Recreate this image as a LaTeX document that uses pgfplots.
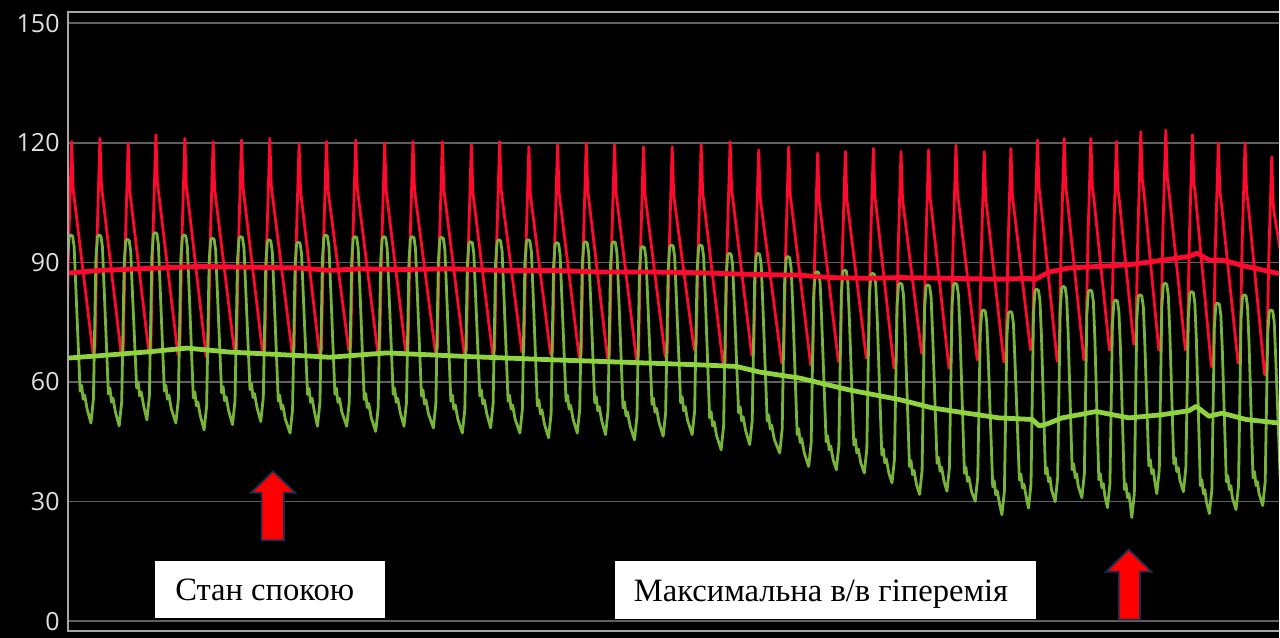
\documentclass[border=0pt]{standalone}
\usepackage{fontspec}
\setmainfont{Liberation Serif}
\newfontfamily\tickfont{Open Sans}
\usepackage{pgfplots}
\pgfplotsset{compat=1.18}
\definecolor{wred}{HTML}{FF0A2E}
\definecolor{wgreen}{HTML}{78B43A}
\definecolor{mgreen}{HTML}{8FD33F}
\definecolor{gridc}{HTML}{606060}
\definecolor{framec}{HTML}{A6A6A6}
\definecolor{tickc}{HTML}{E0E0E0}
\definecolor{arrowedge}{HTML}{1F2D4D}

\begin{document}
\begin{tikzpicture}
% 1 px of the screenshot = 0.5pt
\fill[black] (0,0) rectangle (640pt,319pt);
\begin{axis}[at={(34pt,3.15pt)}, anchor=south west, scale only axis,
  width=606pt, height=309.85pt,
  xmin=68, xmax=1280, ymin=-2.5, ymax=152.8,
  xtick=\empty, ytick={0,30,60,90,120,150},
  ymajorgrids, grid style={gridc, line width=0.8pt},
  major tick length=0pt, axis line style={draw=none},
  /pgf/number format/assume math mode=true,
  yticklabel style={font=\tickfont\fontsize{12.5}{13}\selectfont, text=tickc, inner xsep=0pt, xshift=-4pt},
  clip mode=individual,
  every axis plot/.append style={line join=round, mark=none}]

% aortic pressure (red)
\addplot[wred, line width=1.4pt] coordinates {
(64.7,68.0) (66.7,69.0) (68.7,94.3) (70.2,107.3) (71.7,120.3) (73.2,108.3) (74.7,105.3)
(93.0,67.3) (95.0,68.3) (97.0,95.1) (98.5,108.1) (100.0,121.1) (101.5,109.1) (103.0,106.1)
(121.3,67.0) (123.3,68.0) (125.3,93.9) (126.8,106.9) (128.3,119.9) (129.8,107.9) (131.3,104.9)
(149.0,67.5) (151.0,68.5) (153.0,96.0) (154.5,109.0) (156.0,122.0) (157.5,110.0) (159.0,107.0)
(178.0,67.0) (180.0,68.0) (182.0,95.1) (183.5,108.1) (185.0,121.1) (186.5,109.1) (188.0,106.1)
(206.3,66.4) (208.3,67.4) (210.3,94.3) (211.8,107.3) (213.3,120.3) (214.8,108.3) (216.3,105.3)
(234.7,67.5) (236.7,68.5) (238.7,94.7) (240.2,107.7) (241.7,120.7) (243.2,108.7) (244.7,105.7)
(263.0,67.0) (265.0,68.0) (267.0,95.1) (268.5,108.1) (270.0,121.1) (271.5,109.1) (273.0,106.1)
(292.3,67.5) (294.3,68.5) (296.3,93.7) (297.8,106.7) (299.3,119.7) (300.8,107.7) (302.3,104.7)
(319.7,67.0) (321.7,68.0) (323.7,94.3) (325.2,107.3) (326.7,120.3) (328.2,108.3) (329.7,105.3)
(349.0,68.0) (351.0,69.0) (353.0,94.7) (354.5,107.7) (356.0,120.7) (357.5,108.7) (359.0,105.7)
(378.0,67.5) (380.0,68.5) (382.0,93.9) (383.5,106.9) (385.0,119.9) (386.5,107.9) (388.0,104.9)
(406.3,67.0) (408.3,68.0) (410.3,94.3) (411.8,107.3) (413.3,120.3) (414.8,108.3) (416.3,105.3)
(435.7,67.5) (437.7,68.5) (439.7,94.3) (441.2,107.3) (442.7,120.3) (444.2,108.3) (445.7,105.3)
(464.7,67.0) (466.7,68.0) (468.7,93.5) (470.2,106.5) (471.7,119.5) (473.2,107.5) (474.7,104.5)
(493.0,67.0) (495.0,68.0) (497.0,94.3) (498.5,107.3) (500.0,120.3) (501.5,108.3) (503.0,105.3)
(522.3,67.5) (524.3,68.5) (526.3,93.0) (527.8,106.0) (529.3,119.0) (530.8,107.0) (532.3,104.0)
(551.0,67.0) (553.0,68.0) (555.0,93.5) (556.5,106.5) (558.0,119.5) (559.5,107.5) (561.0,104.5)
(579.7,66.0) (581.7,67.0) (583.7,93.9) (585.2,106.9) (586.7,119.9) (588.2,107.9) (589.7,104.9)
(608.0,66.0) (610.0,67.0) (612.0,93.5) (613.5,106.5) (615.0,119.5) (616.5,107.5) (618.0,104.5)
(637.0,65.6) (639.0,66.6) (641.0,93.0) (642.5,106.0) (644.0,119.0) (645.5,107.0) (647.0,104.0)
(665.7,66.4) (667.7,67.4) (669.7,93.0) (671.2,106.0) (672.7,119.0) (674.2,107.0) (675.7,104.0)
(694.7,68.1) (696.7,69.1) (698.7,93.5) (700.2,106.5) (701.7,119.5) (703.2,107.5) (704.7,104.5)
(723.7,64.3) (725.7,65.3) (727.7,94.3) (729.2,107.3) (730.7,120.3) (732.2,108.3) (733.7,105.3)
(752.3,66.8) (754.3,67.8) (756.3,92.2) (757.8,105.2) (759.3,118.2) (760.8,106.2) (762.3,103.2)
(782.3,64.8) (784.3,65.8) (786.3,93.0) (787.8,106.0) (789.3,119.0) (790.8,107.0) (792.3,104.0)
(811.3,64.3) (813.3,65.3) (815.3,91.4) (816.8,104.4) (818.3,117.4) (819.8,105.4) (821.3,102.4)
(839.0,65.2) (841.0,66.2) (843.0,91.8) (844.5,104.8) (846.0,117.8) (847.5,105.8) (849.0,102.8)
(867.0,66.0) (869.0,67.0) (871.0,92.6) (872.5,105.6) (874.0,118.6) (875.5,106.6) (877.0,103.6)
(894.7,63.5) (896.7,64.5) (898.7,91.8) (900.2,104.8) (901.7,117.8) (903.2,105.8) (904.7,102.8)
(922.3,67.3) (924.3,68.3) (926.3,92.2) (927.8,105.2) (929.3,118.2) (930.8,106.2) (932.3,103.2)
(949.7,63.5) (951.7,64.5) (953.7,93.4) (955.2,106.4) (956.7,119.4) (958.2,107.4) (959.7,104.4)
(978.0,65.6) (980.0,66.6) (982.0,91.8) (983.5,104.8) (985.0,117.8) (986.5,105.8) (988.0,102.8)
(1004.7,65.0) (1006.7,66.0) (1008.7,92.6) (1010.2,105.6) (1011.7,118.6) (1013.2,106.6) (1014.7,103.6)
(1031.3,68.1) (1033.3,69.1) (1035.3,94.7) (1036.8,107.7) (1038.3,120.7) (1039.8,108.7) (1041.3,105.7)
(1058.0,65.2) (1060.0,66.2) (1062.0,95.1) (1063.5,108.1) (1065.0,121.1) (1066.5,109.1) (1068.0,106.1)
(1084.7,65.6) (1086.7,66.6) (1088.7,95.1) (1090.2,108.1) (1091.7,121.1) (1093.2,109.1) (1094.7,106.1)
(1110.3,68.0) (1112.3,69.0) (1114.3,94.3) (1115.8,107.3) (1117.3,120.3) (1118.8,108.3) (1120.3,105.3)
(1134.7,69.5) (1136.7,70.5) (1138.7,96.8) (1140.2,109.8) (1141.7,122.8) (1143.2,110.8) (1144.7,107.8)
(1159.7,68.0) (1161.7,69.0) (1163.7,97.2) (1165.2,110.2) (1166.7,123.2) (1168.2,111.2) (1169.7,108.2)
(1186.3,68.1) (1188.3,69.1) (1190.3,96.0) (1191.8,109.0) (1193.3,122.0) (1194.8,110.0) (1196.3,107.0)
(1212.3,63.9) (1214.3,64.9) (1216.3,93.9) (1217.8,106.9) (1219.3,119.9) (1220.8,107.9) (1222.3,104.9)
(1239.0,64.8) (1241.0,65.8) (1243.0,93.9) (1244.5,106.9) (1246.0,119.9) (1247.5,107.9) (1249.0,104.9)
(1265.7,61.8) (1267.7,62.8) (1269.7,90.5) (1271.2,103.5) (1272.7,116.5) (1274.2,104.5) (1275.7,101.5)
(1290.0,80.0)
};

% distal pressure (green)
\addplot[wgreen, line width=1.4pt] coordinates {
(62.7,50.0) (65.2,56.0) (67.7,90.9) (69.2,96.4) (70.7,96.9) (72.7,96.6) (74.2,93.9) (75.7,84.9) (80.2,57.7) (81.7,59.2) (83.2,55.7) (84.7,56.7) (87.2,53.2)
(91.0,49.7) (93.5,55.7) (96.0,90.9) (97.5,96.4) (99.0,96.9) (101.0,96.6) (102.5,93.9) (104.0,84.9) (108.5,57.0) (110.0,58.5) (111.5,55.0) (113.0,56.0) (115.5,52.5)
(119.3,49.0) (121.8,55.0) (124.3,89.8) (125.8,95.3) (127.3,95.8) (129.3,95.5) (130.8,92.8) (132.3,83.8) (136.8,58.5) (138.3,60.0) (139.8,56.5) (141.3,57.5) (143.8,54.0)
(147.0,50.5) (149.5,56.5) (152.0,91.5) (153.5,97.0) (155.0,97.5) (157.0,97.2) (158.5,94.5) (160.0,85.5) (164.5,57.7) (166.0,59.2) (167.5,55.7) (169.0,56.7) (171.5,53.2)
(176.0,49.7) (178.5,55.7) (181.0,90.9) (182.5,96.4) (184.0,96.9) (186.0,96.6) (187.5,93.9) (189.0,84.9) (193.5,56.0) (195.0,57.5) (196.5,54.0) (198.0,55.0) (200.5,51.5)
(204.3,48.0) (206.8,54.0) (209.3,90.1) (210.8,95.6) (212.3,96.1) (214.3,95.8) (215.8,93.1) (217.3,84.1) (221.8,57.3) (223.3,58.8) (224.8,55.3) (226.3,56.3) (228.8,52.8)
(232.7,49.3) (235.2,55.3) (237.7,90.5) (239.2,96.0) (240.7,96.5) (242.7,96.2) (244.2,93.5) (245.7,84.5) (250.2,58.1) (251.7,59.6) (253.2,56.1) (254.7,57.1) (257.2,53.6)
(261.0,50.1) (263.5,56.1) (266.0,89.7) (267.5,95.2) (269.0,95.7) (271.0,95.4) (272.5,92.7) (274.0,83.7) (278.5,55.2) (280.0,56.7) (281.5,53.2) (283.0,54.2) (285.5,50.7)
(290.3,47.2) (292.8,53.2) (295.3,89.1) (296.8,94.6) (298.3,95.1) (300.3,94.8) (301.8,92.1) (303.3,83.1) (307.8,56.9) (309.3,58.4) (310.8,54.9) (312.3,55.9) (314.8,52.4)
(317.7,48.9) (320.2,54.9) (322.7,90.9) (324.2,96.4) (325.7,96.9) (327.7,96.6) (329.2,93.9) (330.7,84.9) (335.2,56.9) (336.7,58.4) (338.2,54.9) (339.7,55.9) (342.2,52.4)
(347.0,48.9) (349.5,54.9) (352.0,90.5) (353.5,96.0) (355.0,96.5) (357.0,96.2) (358.5,93.5) (360.0,84.5) (364.5,55.6) (366.0,57.1) (367.5,53.6) (369.0,54.6) (371.5,51.1)
(376.0,47.6) (378.5,53.6) (381.0,90.5) (382.5,96.0) (384.0,96.5) (386.0,96.2) (387.5,93.5) (389.0,84.5) (393.5,56.9) (395.0,58.4) (396.5,54.9) (398.0,55.9) (400.5,52.4)
(404.3,48.9) (406.8,54.9) (409.3,90.5) (410.8,96.0) (412.3,96.5) (414.3,96.2) (415.8,93.5) (417.3,84.5) (421.8,56.5) (423.3,58.0) (424.8,54.5) (426.3,55.5) (428.8,52.0)
(433.7,48.5) (436.2,54.5) (438.7,90.3) (440.2,95.8) (441.7,96.3) (443.7,96.0) (445.2,93.3) (446.7,84.3) (451.2,55.2) (452.7,56.7) (454.2,53.2) (455.7,54.2) (458.2,50.7)
(462.7,47.2) (465.2,53.2) (467.7,89.2) (469.2,94.7) (470.7,95.2) (472.7,94.9) (474.2,92.2) (475.7,83.2) (480.2,56.5) (481.7,58.0) (483.2,54.5) (484.7,55.5) (487.2,52.0)
(491.0,48.5) (493.5,54.5) (496.0,89.7) (497.5,95.2) (499.0,95.7) (501.0,95.4) (502.5,92.7) (504.0,83.7) (508.5,55.2) (510.0,56.7) (511.5,53.2) (513.0,54.2) (515.5,50.7)
(520.3,47.2) (522.8,53.2) (525.3,89.7) (526.8,95.2) (528.3,95.7) (530.3,95.4) (531.8,92.7) (533.3,83.7) (537.8,54.0) (539.3,55.5) (540.8,52.0) (542.3,53.0) (544.8,49.5)
(549.0,46.0) (551.5,52.0) (554.0,89.0) (555.5,94.5) (557.0,95.0) (559.0,94.7) (560.5,92.0) (562.0,83.0) (566.5,55.2) (568.0,56.7) (569.5,53.2) (571.0,54.2) (573.5,50.7)
(577.7,47.2) (580.2,53.2) (582.7,89.2) (584.2,94.7) (585.7,95.2) (587.7,94.9) (589.2,92.2) (590.7,83.2) (595.2,54.8) (596.7,56.3) (598.2,52.8) (599.7,53.8) (602.2,50.3)
(606.0,46.8) (608.5,52.8) (611.0,89.2) (612.5,94.7) (614.0,95.2) (616.0,94.9) (617.5,92.2) (619.0,83.2) (623.5,53.5) (625.0,55.0) (626.5,51.5) (628.0,52.5) (630.5,49.0)
(635.0,45.5) (637.5,51.5) (640.0,88.0) (641.5,93.5) (643.0,94.0) (645.0,93.7) (646.5,91.0) (648.0,82.0) (652.5,54.4) (654.0,55.9) (655.5,52.4) (657.0,53.4) (659.5,49.9)
(663.7,46.4) (666.2,52.4) (668.7,88.4) (670.2,93.9) (671.7,94.4) (673.7,94.1) (675.2,91.4) (676.7,82.4) (681.2,54.8) (682.7,56.3) (684.2,52.8) (685.7,53.8) (688.2,50.3)
(692.7,46.8) (695.2,52.8) (697.7,88.4) (699.2,93.9) (700.7,94.4) (702.7,94.1) (704.2,91.4) (705.7,82.4) (710.2,51.0) (711.7,52.5) (713.2,49.0) (714.7,50.0) (717.2,46.5)
(721.7,43.0) (724.2,49.0) (726.7,86.3) (728.2,91.8) (729.7,92.3) (731.7,92.0) (733.2,89.3) (734.7,80.3) (739.2,52.3) (740.7,53.8) (742.2,50.3) (743.7,51.3) (746.2,47.8)
(750.3,44.3) (752.8,50.3) (755.3,86.3) (756.8,91.8) (758.3,92.3) (760.3,92.0) (761.8,89.3) (763.3,80.3) (767.8,50.2) (769.3,51.7) (770.8,48.2) (772.3,49.2) (774.8,45.7)
(780.3,42.2) (782.8,48.2) (785.3,85.5) (786.8,91.0) (788.3,91.5) (790.3,91.2) (791.8,88.5) (793.3,79.5) (797.8,46.8) (799.3,48.3) (800.8,44.8) (802.3,45.8) (804.8,42.3)
(809.3,38.8) (811.8,44.8) (814.3,81.7) (815.8,87.2) (817.3,87.7) (819.3,87.4) (820.8,84.7) (822.3,75.7) (826.8,45.0) (828.3,46.5) (829.8,43.0) (831.3,44.0) (833.8,40.5)
(837.0,38.0) (839.5,44.0) (842.0,82.1) (843.5,87.6) (845.0,88.1) (847.0,87.8) (848.5,85.1) (850.0,76.1) (854.5,44.2) (856.0,45.7) (857.5,42.2) (859.0,43.2) (861.5,39.7)
(865.0,37.2) (867.5,43.2) (870.0,81.3) (871.5,86.8) (873.0,87.3) (875.0,87.0) (876.5,84.3) (878.0,75.3) (882.5,41.7) (884.0,43.2) (885.5,39.7) (887.0,40.7) (889.5,37.2)
(892.7,34.7) (895.2,40.7) (897.7,78.8) (899.2,84.3) (900.7,84.8) (902.7,84.5) (904.2,81.8) (905.7,72.8) (910.2,38.8) (911.7,40.3) (913.2,36.8) (914.7,37.8) (917.2,34.3)
(920.3,31.8) (922.8,37.8) (925.3,78.4) (926.8,83.9) (928.3,84.4) (930.3,84.1) (931.8,81.4) (933.3,72.4) (937.8,39.6) (939.3,41.1) (940.8,37.6) (942.3,38.6) (944.8,35.1)
(947.7,32.6) (950.2,38.6) (952.7,78.8) (954.2,84.3) (955.7,84.8) (957.7,84.5) (959.2,81.8) (960.7,72.8) (965.2,37.1) (966.7,38.6) (968.2,35.1) (969.7,36.1) (972.2,32.6)
(976.0,30.1) (978.5,36.1) (981.0,72.1) (982.5,77.6) (984.0,78.1) (986.0,77.8) (987.5,75.1) (989.0,66.1) (993.5,33.7) (995.0,35.2) (996.5,31.7) (998.0,32.7) (1000.5,29.2)
(1002.7,26.7) (1005.2,32.7) (1007.7,71.7) (1009.2,77.2) (1010.7,77.7) (1012.7,77.4) (1014.2,74.7) (1015.7,65.7) (1020.2,35.4) (1021.7,36.9) (1023.2,33.4) (1024.7,34.4) (1027.2,30.9)
(1029.3,28.4) (1031.8,34.4) (1034.3,77.3) (1035.8,82.8) (1037.3,83.3) (1039.3,83.0) (1040.8,80.3) (1042.3,71.3) (1046.3,37.0) (1047.8,38.5) (1049.3,35.0) (1050.8,36.0) (1052.3,33.0)
(1056.0,30.0) (1058.5,36.0) (1061.0,78.0) (1062.5,83.5) (1064.0,84.0) (1066.0,83.7) (1067.5,81.0) (1069.0,72.0) (1073.0,38.0) (1074.5,39.5) (1076.0,36.0) (1077.5,37.0) (1079.0,34.0)
(1082.7,31.0) (1085.2,37.0) (1087.7,77.1) (1089.2,82.6) (1090.7,83.1) (1092.7,82.8) (1094.2,80.1) (1095.7,71.1) (1099.7,35.5) (1101.2,37.0) (1102.7,33.5) (1104.2,34.5) (1105.7,31.5)
(1108.3,28.5) (1110.8,34.5) (1113.3,74.6) (1114.8,80.1) (1116.3,80.6) (1118.3,80.3) (1119.8,77.6) (1121.3,68.6) (1125.3,33.0) (1126.8,34.5) (1128.3,31.0) (1129.8,32.0) (1131.3,29.0)
(1132.7,26.0) (1135.2,32.0) (1137.7,75.9) (1139.2,81.4) (1140.7,81.9) (1142.7,81.6) (1144.2,78.9) (1145.7,69.9) (1149.7,39.0) (1151.2,40.5) (1152.7,37.0) (1154.2,38.0) (1155.7,35.0)
(1157.7,32.0) (1160.2,38.0) (1162.7,78.8) (1164.2,84.3) (1165.7,84.8) (1167.7,84.5) (1169.2,81.8) (1170.7,72.8) (1174.7,39.5) (1176.2,41.0) (1177.7,37.5) (1179.2,38.5) (1180.7,35.5)
(1184.3,32.5) (1186.8,38.5) (1189.3,76.7) (1190.8,82.2) (1192.3,82.7) (1194.3,82.4) (1195.8,79.7) (1197.3,70.7) (1201.3,34.0) (1202.8,35.5) (1204.3,32.0) (1205.8,33.0) (1207.3,30.0)
(1210.3,27.0) (1212.8,33.0) (1215.3,73.8) (1216.8,79.3) (1218.3,79.8) (1220.3,79.5) (1221.8,76.8) (1223.3,67.8) (1227.3,35.0) (1228.8,36.5) (1230.3,33.0) (1231.8,34.0) (1233.3,31.0)
(1237.0,28.0) (1239.5,34.0) (1242.0,75.9) (1243.5,81.4) (1245.0,81.9) (1247.0,81.6) (1248.5,78.9) (1250.0,69.9) (1254.0,36.0) (1255.5,37.5) (1257.0,34.0) (1258.5,35.0) (1260.0,32.0)
(1263.7,29.0) (1266.2,35.0) (1268.7,72.1) (1270.2,77.6) (1271.7,78.1) (1273.7,77.8) (1275.2,75.1) (1276.7,66.1) (1281.2,36.0)
};

% mean aortic pressure
\addplot[wred, line width=2.4pt] coordinates {
(68,87.3) (100,88.0) (160,88.6) (200,89.0) (250,88.8) (300,88.6) (330,88.0) (360,88.4)
(400,88.2) (450,88.4) (500,88.0) (550,88.0) (600,87.6) (650,87.6) (700,87.4) (750,87.0)
(800,86.8) (830,86.2) (870,86.0) (900,86.2) (950,86.0) (1000,85.8) (1030,86.0) (1035,85.6)
(1050,87.6) (1070,88.6) (1100,89.0) (1130,89.4) (1165,90.6) (1190,91.5) (1198,92.3)
(1210,90.6) (1223,90.6) (1247,89.0) (1280,87.2)
};

% mean distal pressure
\addplot[mgreen, line width=2.4pt] coordinates {
(68,66.0) (100,66.6) (150,67.6) (187,68.5) (230,67.5) (270,67.0) (310,66.5) (330,66.2)
(387,67.3) (467,66.4) (560,65.5) (620,65.0) (700,64.3) (737,63.9) (760,62.5) (800,61.0)
(850,58.0) (900,55.6) (933,53.5) (967,52.2) (1000,51.0) (1033,50.6) (1040,49.0) (1048,49.5)
(1063,51.0) (1097,52.6) (1130,51.0) (1163,51.8) (1190,52.8) (1197,53.9) (1210,51.4)
(1223,52.2) (1247,50.6) (1280,49.7)
};

% frame
\draw[framec, line width=1pt] (rel axis cs:1,1) -- (rel axis cs:0,1) -- (rel axis cs:0,0) -- (rel axis cs:1,0);

% labels
\fill[white] (axis cs:155,0.85) rectangle (axis cs:385,15.04);
\node[anchor=base west, inner sep=0pt, font=\fontsize{16.3}{18}\selectfont] at (axis cs:175,5.26) {Стан спокою};
\fill[white] (axis cs:615,0.68) rectangle (axis cs:1037,15.04);
\node[anchor=base west, inner sep=0pt, font=\fontsize{16.3}{18}\selectfont] at (axis cs:634,5.0) {Максимальна в/в гіперемія};

% arrows
\filldraw[fill=red, draw=arrowedge, line width=0.9pt, line join=miter]
  (axis cs:261.7,20.3) -- (axis cs:261.7,32.2) -- (axis cs:251,32.2) -- (axis cs:273.3,37.6)
  -- (axis cs:295.7,32.2) -- (axis cs:284.3,32.2) -- (axis cs:284.3,20.3) -- cycle;
\filldraw[fill=red, draw=arrowedge, line width=0.9pt, line join=miter]
  (axis cs:1119.6,0.43) -- (axis cs:1119.6,12.4) -- (axis cs:1107,12.4) -- (axis cs:1129.5,18.0)
  -- (axis cs:1152.4,12.4) -- (axis cs:1141,12.4) -- (axis cs:1141,0.43) -- cycle;
\end{axis}
\end{tikzpicture}
\end{document}
